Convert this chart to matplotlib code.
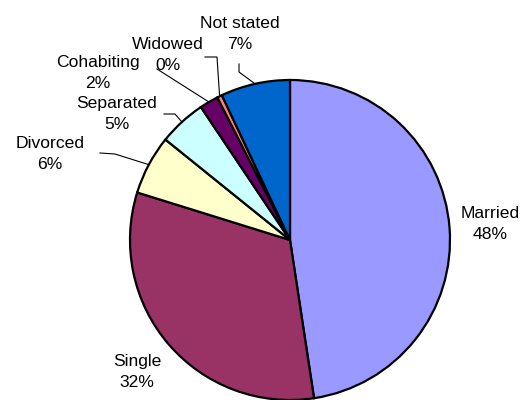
import numpy as np
import matplotlib
matplotlib.use("Agg")
import matplotlib.pyplot as plt

# marital status shares (percent)
categories = ["Married", "Single", "Divorced", "Separated", "Cohabiting", "Widowed", "Not stated"]
shares = [47.6, 32.2, 6.0, 4.8, 1.9, 0.5, 7.0]
pct_labels = ["48%", "32%", "6%", "5%", "2%", "0%", "7%"]
colors = ["#9999FF", "#993366", "#FFFFCC", "#CCFFFF", "#660066", "#FF8080", "#0066CC"]

plt.rcParams["font.family"] = ["Liberation Sans", "DejaVu Sans"]

fig = plt.figure(figsize=(5.31, 4.0), dpi=100)
ax = fig.add_axes([0, 0, 1, 1])

cx, cy, r = 290, 160, 160
wedges, _ = ax.pie(shares, colors=colors, startangle=90, counterclock=False,
                   center=(cx, cy), radius=r, frame=True,
                   wedgeprops=dict(edgecolor="black", linewidth=1.6))
ax.set_xlim(0, 531)
ax.set_ylim(0, 400)
ax.set_aspect("equal")
ax.axis("off")

# label positions (pixels from top-left) and leader-line start points
label_pos = {
    "Married": (490, 224),
    "Single": (137, 372),
    "Divorced": (50, 154),
    "Separated": (117, 114),
    "Cohabiting": (98, 73),
    "Widowed": (168, 55),
    "Not stated": (240, 34),
}
leaders = {
    "Divorced": [(100, 153), (115, 154)],
    "Separated": [(164, 114), (175, 114)],
    "Cohabiting": [(157, 69)],
    "Widowed": [(205, 57), (217, 57)],
    "Not stated": [(239, 64), (239, 72)],
}

for w, cat, pl in zip(wedges, categories, pct_labels):
    lx, ly = label_pos[cat]
    ax.text(lx, 400 - ly, f"{cat}\n{pl}", ha="center", va="center",
            fontsize=12.6, linespacing=1.5)
    if cat in leaders:
        mid = np.deg2rad((w.theta1 + w.theta2) / 2)
        ex, ey = cx + r * np.cos(mid), cy + r * np.sin(mid)
        pts = [(x, 400 - y) for x, y in leaders[cat]] + [(ex, ey)]
        xs, ys = zip(*pts)
        ax.plot(xs, ys, color="black", linewidth=0.8)

fig.savefig("out.png", dpi=100)
